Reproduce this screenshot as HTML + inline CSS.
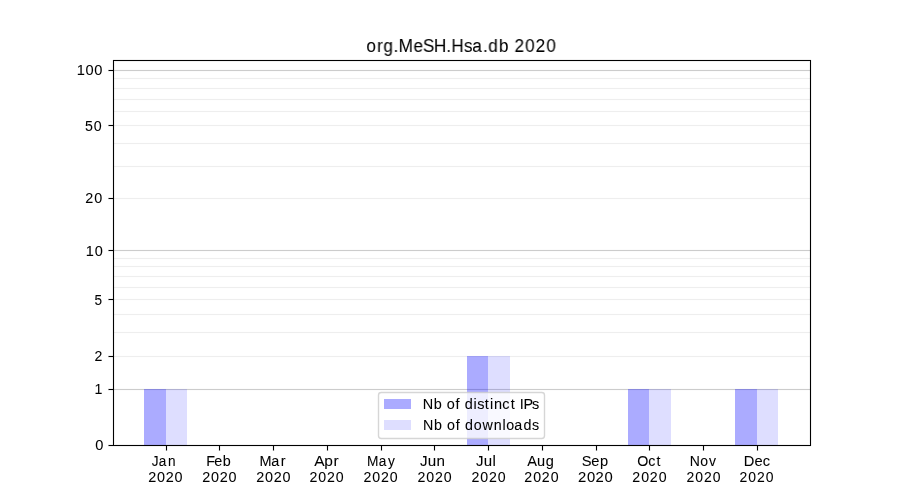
<!DOCTYPE html>
<html><head><meta charset="utf-8"><title>org.MeSH.Hsa.db 2020</title>
<style>html,body{margin:0;padding:0;background:#fff;overflow:hidden}body{width:900px;height:500px;font-family:"Liberation Sans",sans-serif}svg{display:block;position:absolute;left:0;top:0}text{font-family:"Liberation Sans",sans-serif;fill:#000}</style>
</head><body>
<svg width="900" height="500" viewBox="0 0 900 500" style="will-change:transform">
<rect x="0" y="0" width="900" height="500" fill="#ffffff"/>
<g shape-rendering="crispEdges">
<rect x="114" y="355" width="696" height="3" fill="#fefefe"/><rect x="114" y="356" width="696" height="1" fill="#eeeeee"/>
<rect x="114" y="331" width="696" height="3" fill="#fefefe"/><rect x="114" y="332" width="696" height="1" fill="#eeeeee"/>
<rect x="114" y="313" width="696" height="3" fill="#fefefe"/><rect x="114" y="314" width="696" height="1" fill="#eeeeee"/>
<rect x="114" y="298" width="696" height="3" fill="#fefefe"/><rect x="114" y="299" width="696" height="1" fill="#eeeeee"/>
<rect x="114" y="286" width="696" height="3" fill="#fefefe"/><rect x="114" y="287" width="696" height="1" fill="#eeeeee"/>
<rect x="114" y="275" width="696" height="3" fill="#fefefe"/><rect x="114" y="276" width="696" height="1" fill="#eeeeee"/>
<rect x="114" y="265" width="696" height="3" fill="#fefefe"/><rect x="114" y="266" width="696" height="1" fill="#eeeeee"/>
<rect x="114" y="257" width="696" height="3" fill="#fefefe"/><rect x="114" y="258" width="696" height="1" fill="#eeeeee"/>
<rect x="114" y="197" width="696" height="3" fill="#fefefe"/><rect x="114" y="198" width="696" height="1" fill="#eeeeee"/>
<rect x="114" y="165" width="696" height="3" fill="#fefefe"/><rect x="114" y="166" width="696" height="1" fill="#eeeeee"/>
<rect x="114" y="142" width="696" height="3" fill="#fefefe"/><rect x="114" y="143" width="696" height="1" fill="#eeeeee"/>
<rect x="114" y="124" width="696" height="3" fill="#fefefe"/><rect x="114" y="125" width="696" height="1" fill="#eeeeee"/>
<rect x="114" y="110" width="696" height="3" fill="#fefefe"/><rect x="114" y="111" width="696" height="1" fill="#eeeeee"/>
<rect x="114" y="98" width="696" height="3" fill="#fefefe"/><rect x="114" y="99" width="696" height="1" fill="#eeeeee"/>
<rect x="114" y="87" width="696" height="3" fill="#fefefe"/><rect x="114" y="88" width="696" height="1" fill="#eeeeee"/>
<rect x="114" y="77" width="696" height="3" fill="#fefefe"/><rect x="114" y="78" width="696" height="1" fill="#eeeeee"/>
<rect x="114" y="388" width="696" height="3" fill="#fcfcfc"/><rect x="114" y="389" width="696" height="1" fill="#cccccc"/>
<rect x="114" y="249" width="696" height="3" fill="#fcfcfc"/><rect x="114" y="250" width="696" height="1" fill="#cccccc"/>
<rect x="114" y="69" width="696" height="3" fill="#fcfcfc"/><rect x="114" y="70" width="696" height="1" fill="#cccccc"/>
<rect x="144" y="389" width="22" height="56" fill="#0000ff" fill-opacity="0.33"/>
<rect x="166" y="389" width="21" height="56" fill="#0000ff" fill-opacity="0.13"/>
<rect x="467" y="356" width="21" height="89" fill="#0000ff" fill-opacity="0.33"/>
<rect x="488" y="356" width="22" height="89" fill="#0000ff" fill-opacity="0.13"/>
<rect x="628" y="389" width="21" height="56" fill="#0000ff" fill-opacity="0.33"/>
<rect x="649" y="389" width="22" height="56" fill="#0000ff" fill-opacity="0.13"/>
<rect x="735" y="389" width="22" height="56" fill="#0000ff" fill-opacity="0.33"/>
<rect x="757" y="389" width="21" height="56" fill="#0000ff" fill-opacity="0.13"/>
</g>
<rect x="378.5" y="392.5" width="166" height="46" rx="2.8" ry="2.8" fill="#ffffff" fill-opacity="0.8" stroke="#cccccc" stroke-opacity="0.8" stroke-width="1.39"/>
<g shape-rendering="crispEdges">
<rect x="384" y="399" width="27" height="10" fill="#0000ff" fill-opacity="0.33"/>
<rect x="384" y="420" width="27" height="10" fill="#0000ff" fill-opacity="0.13"/>
<rect x="113" y="59" width="698" height="1" fill="#000" fill-opacity="0.055"/>
<rect x="113" y="446" width="698" height="1" fill="#000" fill-opacity="0.055"/>
<rect x="112" y="60" width="1" height="386" fill="#000" fill-opacity="0.055"/>
<rect x="811" y="60" width="1" height="386" fill="#000" fill-opacity="0.055"/>
<rect x="115" y="61" width="694" height="1" fill="#000" fill-opacity="0.055"/>
<rect x="115" y="444" width="694" height="1" fill="#000" fill-opacity="0.055"/>
<rect x="114" y="61" width="1" height="384" fill="#000" fill-opacity="0.055"/>
<rect x="809" y="61" width="1" height="384" fill="#000" fill-opacity="0.055"/>
<rect x="113" y="60" width="698" height="1" fill="#000"/>
<rect x="113" y="445" width="698" height="1" fill="#000"/>
<rect x="113" y="60" width="1" height="386" fill="#000"/>
<rect x="810" y="60" width="1" height="386" fill="#000"/>
<rect x="108" y="444" width="5" height="3" fill="#000" fill-opacity="0.055"/><rect x="109" y="445" width="4" height="1" fill="#000"/><rect x="108" y="445" width="1" height="1" fill="#7f7f7f"/>
<rect x="108" y="388" width="5" height="3" fill="#000" fill-opacity="0.055"/><rect x="109" y="389" width="4" height="1" fill="#000"/><rect x="108" y="389" width="1" height="1" fill="#7f7f7f"/>
<rect x="108" y="355" width="5" height="3" fill="#000" fill-opacity="0.055"/><rect x="109" y="356" width="4" height="1" fill="#000"/><rect x="108" y="356" width="1" height="1" fill="#7f7f7f"/>
<rect x="108" y="298" width="5" height="3" fill="#000" fill-opacity="0.055"/><rect x="109" y="299" width="4" height="1" fill="#000"/><rect x="108" y="299" width="1" height="1" fill="#7f7f7f"/>
<rect x="108" y="249" width="5" height="3" fill="#000" fill-opacity="0.055"/><rect x="109" y="250" width="4" height="1" fill="#000"/><rect x="108" y="250" width="1" height="1" fill="#7f7f7f"/>
<rect x="108" y="197" width="5" height="3" fill="#000" fill-opacity="0.055"/><rect x="109" y="198" width="4" height="1" fill="#000"/><rect x="108" y="198" width="1" height="1" fill="#7f7f7f"/>
<rect x="108" y="124" width="5" height="3" fill="#000" fill-opacity="0.055"/><rect x="109" y="125" width="4" height="1" fill="#000"/><rect x="108" y="125" width="1" height="1" fill="#7f7f7f"/>
<rect x="108" y="69" width="5" height="3" fill="#000" fill-opacity="0.055"/><rect x="109" y="70" width="4" height="1" fill="#000"/><rect x="108" y="70" width="1" height="1" fill="#7f7f7f"/>
<rect x="165" y="446" width="3" height="5" fill="#000" fill-opacity="0.055"/><rect x="166" y="446" width="1" height="4" fill="#000"/><rect x="166" y="450" width="1" height="1" fill="#7f7f7f"/>
<rect x="218" y="446" width="3" height="5" fill="#000" fill-opacity="0.055"/><rect x="219" y="446" width="1" height="4" fill="#000"/><rect x="219" y="450" width="1" height="1" fill="#7f7f7f"/>
<rect x="272" y="446" width="3" height="5" fill="#000" fill-opacity="0.055"/><rect x="273" y="446" width="1" height="4" fill="#000"/><rect x="273" y="450" width="1" height="1" fill="#7f7f7f"/>
<rect x="326" y="446" width="3" height="5" fill="#000" fill-opacity="0.055"/><rect x="327" y="446" width="1" height="4" fill="#000"/><rect x="327" y="450" width="1" height="1" fill="#7f7f7f"/>
<rect x="380" y="446" width="3" height="5" fill="#000" fill-opacity="0.055"/><rect x="381" y="446" width="1" height="4" fill="#000"/><rect x="381" y="450" width="1" height="1" fill="#7f7f7f"/>
<rect x="433" y="446" width="3" height="5" fill="#000" fill-opacity="0.055"/><rect x="434" y="446" width="1" height="4" fill="#000"/><rect x="434" y="450" width="1" height="1" fill="#7f7f7f"/>
<rect x="487" y="446" width="3" height="5" fill="#000" fill-opacity="0.055"/><rect x="488" y="446" width="1" height="4" fill="#000"/><rect x="488" y="450" width="1" height="1" fill="#7f7f7f"/>
<rect x="541" y="446" width="3" height="5" fill="#000" fill-opacity="0.055"/><rect x="542" y="446" width="1" height="4" fill="#000"/><rect x="542" y="450" width="1" height="1" fill="#7f7f7f"/>
<rect x="595" y="446" width="3" height="5" fill="#000" fill-opacity="0.055"/><rect x="596" y="446" width="1" height="4" fill="#000"/><rect x="596" y="450" width="1" height="1" fill="#7f7f7f"/>
<rect x="648" y="446" width="3" height="5" fill="#000" fill-opacity="0.055"/><rect x="649" y="446" width="1" height="4" fill="#000"/><rect x="649" y="450" width="1" height="1" fill="#7f7f7f"/>
<rect x="702" y="446" width="3" height="5" fill="#000" fill-opacity="0.055"/><rect x="703" y="446" width="1" height="4" fill="#000"/><rect x="703" y="450" width="1" height="1" fill="#7f7f7f"/>
<rect x="756" y="446" width="3" height="5" fill="#000" fill-opacity="0.055"/><rect x="757" y="446" width="1" height="4" fill="#000"/><rect x="757" y="450" width="1" height="1" fill="#7f7f7f"/>
</g>
<g style="filter:grayscale(1)" stroke="#000" stroke-width="0.07" stroke-linejoin="round">
<text transform="scale(0.9712,1)" x="377.32 388.33 394.66 405.30 410.50 425.65 435.45 446.69 459.48 464.70 477.67 486.22 497.19 502.77 513.80 523.94 529.68 540.85 551.43 562.60" y="52.00" font-size="17.6">org.MeSH.Hsa.db 2020</text>
<text transform="scale(0.9960,1)" x="95.76" y="450.30" font-size="14.7">0</text>
<text transform="scale(0.9655,1)" x="97.93" y="394.30" font-size="14.7">1</text>
<text transform="scale(0.9600,1)" x="98.53" y="361.30" font-size="14.7">2</text>
<text transform="scale(0.9259,1)" x="102.18" y="304.55" font-size="14.7">5</text>
<text transform="scale(0.9894,1)" x="86.62 95.66" y="255.55" font-size="14.7">10</text>
<text transform="scale(0.9784,1)" x="87.14 96.27" y="203.30" font-size="14.7">20</text>
<text transform="scale(0.9681,1)" x="87.73 96.83" y="130.55" font-size="14.7">50</text>
<text transform="scale(0.9968,1)" x="76.91 85.89 94.67" y="75.30" font-size="14.7">100</text>
<text transform="scale(0.9261,1)" x="163.80 171.39 181.43" y="465.60" font-size="14.7">Jan</text>
<text transform="scale(0.9784,1)" x="151.45 160.58 169.33 178.46" y="481.60" font-size="14.7">2020</text>
<text transform="scale(0.9782,1)" x="210.79 218.94 227.83" y="465.60" font-size="14.7">Feb</text>
<text transform="scale(0.9784,1)" x="206.63 215.76 224.51 233.64" y="481.60" font-size="14.7">2020</text>
<text transform="scale(0.9844,1)" x="263.55 275.48 285.26" y="465.60" font-size="14.7">Mar</text>
<text transform="scale(0.9784,1)" x="261.80 270.93 279.69 288.82" y="481.60" font-size="14.7">2020</text>
<text transform="scale(1.0551,1)" x="297.76 307.33 316.07" y="465.60" font-size="14.7">Apr</text>
<text transform="scale(0.9637,1)" x="321.09 330.36 339.25 348.52" y="481.60" font-size="14.7">2020</text>
<text transform="scale(0.9352,1)" x="392.40 404.87 414.89" y="465.60" font-size="14.7">May</text>
<text transform="scale(0.9637,1)" x="377.11 386.38 395.27 404.54" y="481.60" font-size="14.7">2020</text>
<text transform="scale(1.0340,1)" x="406.11 413.73 422.25" y="465.60" font-size="14.7">Jun</text>
<text transform="scale(0.9637,1)" x="433.13 442.39 451.28 460.55" y="481.60" font-size="14.7">2020</text>
<text transform="scale(1.0248,1)" x="464.38 472.05 480.66" y="465.60" font-size="14.7">Jul</text>
<text transform="scale(0.9637,1)" x="489.14 498.41 507.30 516.57" y="481.60" font-size="14.7">2020</text>
<text transform="scale(0.9922,1)" x="531.30 541.31 550.09" y="465.60" font-size="14.7">Aug</text>
<text transform="scale(0.9637,1)" x="544.12 553.39 562.28 571.55" y="481.60" font-size="14.7">2020</text>
<text transform="scale(0.9970,1)" x="583.62 593.02 601.74" y="465.60" font-size="14.7">Sep</text>
<text transform="scale(1.0078,1)" x="573.49 582.36 590.86 599.72" y="481.60" font-size="14.7">2020</text>
<text transform="scale(0.9698,1)" x="657.13 668.51 677.01" y="465.60" font-size="14.7">Oct</text>
<text transform="scale(0.9637,1)" x="656.16 665.43 674.31 683.58" y="481.60" font-size="14.7">2020</text>
<text transform="scale(0.9538,1)" x="723.06 734.17 743.35" y="465.60" font-size="14.7">Nov</text>
<text transform="scale(0.9491,1)" x="723.25 732.66 741.69 751.10" y="481.60" font-size="14.7">2020</text>
<text transform="scale(0.9973,1)" x="745.73 756.66 764.94" y="465.60" font-size="14.7">Dec</text>
<text transform="scale(0.9491,1)" x="779.08 788.49 797.52 806.93" y="481.60" font-size="14.7">2020</text>
<text transform="scale(0.9845,1)" x="429.46 440.51 449.05 453.72 462.75 467.20 471.95 481.00 484.70 492.52 497.76 501.77 510.28 518.68 523.58 528.06 531.67 540.44" y="408.85" font-size="14.7">Nb of distinct IPs</text>
<text transform="scale(0.9719,1)" x="435.32 446.50 455.09 459.88 468.99 473.48 478.34 487.40 496.39 508.03 516.92 520.84 529.06 538.53 547.45" y="429.75" font-size="14.7">Nb of downloads</text>
</g>
</svg>
</body></html>
